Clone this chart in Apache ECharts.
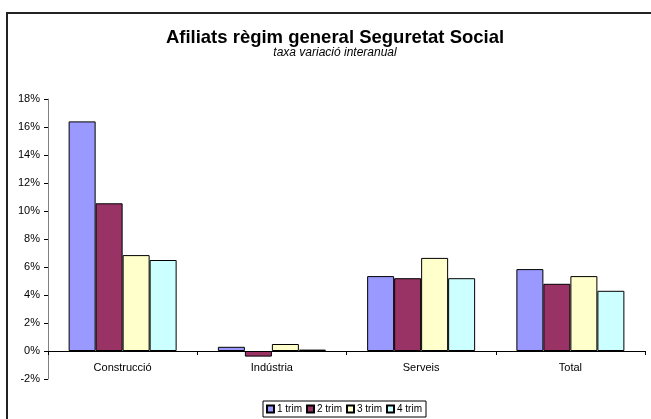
<!DOCTYPE html>
<html lang="ca">
<head>
    <meta charset="UTF-8">
    <title>Afiliats règim general Seguretat Social</title>
    <style>
        html, body { margin: 0; padding: 0; background: #fff; }
        #main { width: 651px; height: 419px; }
    </style>
</head>
<body>
<div id="main"></div>

<script src="https://cdn.jsdelivr.net/npm/echarts@6.0.0/dist/echarts.min.js"></script>
<script>
    // dades llegides del gràfic (taxa interanual, %)
    var sectors = ['Construcció', 'Indústria', 'Serveis', 'Total'];
    var trim1 = [16.4, 0.3, 5.35, 5.85];
    var trim2 = [10.55, -0.4, 5.2, 4.8];
    var trim3 = [6.85, 0.5, 6.65, 5.35];
    var trim4 = [6.5, 0.1, 5.2, 4.3];
    var yTicks = [-2, 0, 2, 4, 6, 8, 10, 12, 14, 16, 18];

    var font = 'Liberation Sans, Arial, sans-serif';

    function serie(name, data, color) {
        return {
            name: name,
            type: 'bar',
            data: data,
            barWidth: 27,
            barGap: '0%',
            itemStyle: { color: color, borderColor: '#000', borderWidth: 1 }
        };
    }

    var myChart = echarts.init(document.getElementById('main'));
    var option = {
        animation: false,
        backgroundColor: '#fff',
        title: {
            text: 'Afiliats règim general Seguretat Social',
            subtext: 'taxa variació interanual',
            left: 330,
            textAlign: 'center',
            top: 23,
            itemGap: 0,
            textStyle: { fontFamily: font, fontSize: 18.5, fontWeight: 'bold', color: '#000' },
            subtextStyle: { fontFamily: font, fontSize: 12, fontStyle: 'italic', color: '#000' }
        },
        legend: {
            bottom: 2,
            left: 263,
            itemWidth: 7,
            itemHeight: 7,
            itemGap: 4,
            padding: [3, 4, 3, 3],
            borderColor: '#000',
            borderWidth: 1,
            icon: 'rect',
            textStyle: { fontFamily: font, fontSize: 10, color: '#000', padding: [0, 0, 0, -2] },
            data: ['1 trim', '2 trim', '3 trim', '4 trim']
        },
        grid: { left: 48, right: 6, top: 99, bottom: 40 },
        xAxis: {
            type: 'category',
            data: sectors,
            axisLine: { onZero: true, lineStyle: { color: '#000', width: 1 } },
            axisTick: { show: true, length: 4, lineStyle: { color: '#000' } },
            // les etiquetes queden just sota la línia del 0%
            axisLabel: { fontFamily: font, fontSize: 11, color: '#000', margin: -17 }
        },
        yAxis: {
            type: 'value',
            min: yTicks[0],
            max: yTicks[yTicks.length - 1],
            interval: 2,
            splitLine: { show: false },
            axisLine: { show: true, onZero: false, lineStyle: { color: '#808080' } },
            axisTick: { show: true, length: 4, lineStyle: { color: '#000' } },
            axisLabel: { fontFamily: font, fontSize: 11, color: '#000', margin: 8, formatter: '{value}%' }
        },
        graphic: [{
            type: 'rect',
            shape: { x: 7, y: 13, width: 700, height: 500 },
            style: { fill: 'none', stroke: '#222', lineWidth: 2 },
            silent: true
        }],
        series: [
            serie('1 trim', trim1, '#9999FF'),
            serie('2 trim', trim2, '#993366'),
            serie('3 trim', trim3, '#FFFFCC'),
            serie('4 trim', trim4, '#CCFFFF')
        ]
    };

    myChart.setOption(option);
</script>
</body>
</html>
